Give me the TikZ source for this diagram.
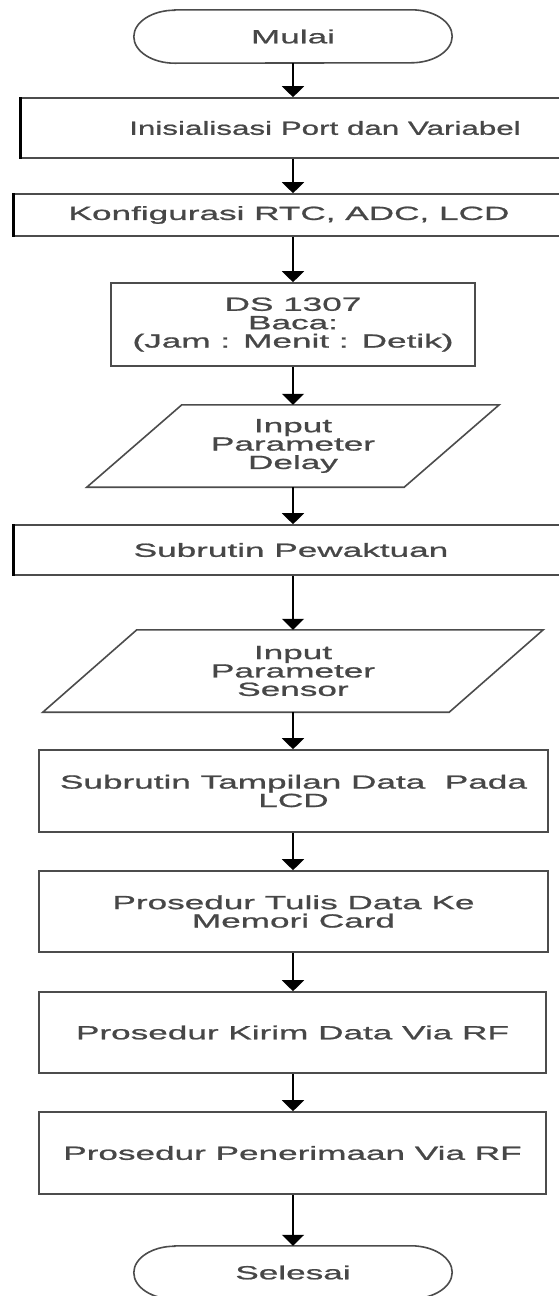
\documentclass[tikz,border=0pt]{standalone}
\usepackage{fontspec}
\setmainfont{Liberation Sans}[FakeStretch=1.85,FakeBold=1.0]
\newfontfamily\narrowfont{Liberation Sans}[FakeStretch=1.65,FakeBold=1.0]
\usetikzlibrary{arrows.meta}
\begin{document}
\begin{tikzpicture}[x=1pt,y=-1pt,
  txt/.style={align=center,inner sep=0pt,text=black!72,font=\fontsize{19}{18.4}\selectfont},
  boxnode/.style={txt,draw=black!70,line width=1.6pt,rectangle,minimum width=#1},
  ghost/.style={txt,draw=none,rectangle,minimum width=#1},
  shapeline/.style={draw=black!70,line width=1.6pt},
  leftedge/.style={draw=black,line width=3pt},
  flow/.style={draw=black,line width=1.8pt,-{Triangle[width=22pt,length=11pt]}}]
\useasboundingbox (0,0) rectangle (559,1296);
\fill[white] (0,0) rectangle (559,1296);
\clip (0,0) rectangle (559,1296);
\coordinate (ax) at (293,0);
% terminator start
\node[ghost=318,minimum height=53] (mulai) at (293,36.5) {Mulai};
\draw[shapeline] ([xshift=41pt]mulai.north west) -- ([xshift=-41pt]mulai.north east)
  arc[start angle=90,end angle=-90,x radius=41pt,y radius=26.5pt]
  -- ([xshift=41pt]mulai.south west)
  arc[start angle=270,end angle=90,x radius=41pt,y radius=26.5pt] -- cycle;
\node[boxnode=608,minimum height=60,font=\fontsize{19}{18.4}\narrowfont] (b1) at (325,128) {Inisialisasi Port dan Variabel};
\draw[leftedge] (b1.north west) -- (b1.south west);
\node[boxnode=550,minimum height=42] (b2) at (289,215) {Konfigurasi RTC, ADC, LCD};
\draw[leftedge] (b2.north west) -- (b2.south west);
\node[boxnode=364,minimum height=83] (ds) at (293,324.5) {DS 1307\\Baca:\\(Jam : Menit : Detik)};
% parallelogram delay
\node[ghost=412,minimum height=82] (pd) at (293,446) {Input\\Parameter\\Delay};
\draw[shapeline] ([xshift=95pt]pd.north west) -- (pd.north east) -- ([xshift=-95pt]pd.south east) -- (pd.south west) -- cycle;
\node[boxnode=554,minimum height=50] (pw) at (291,550) {Subrutin Pewaktuan};
\draw[leftedge] (pw.north west) -- (pw.south west);
% parallelogram sensor
\node[ghost=500,minimum height=82] (ps) at (293,671) {Input\\Parameter\\Sensor};
\draw[shapeline] ([xshift=94pt]ps.north west) -- (ps.north east) -- ([xshift=-94pt]ps.south east) -- (ps.south west) -- cycle;
\node[boxnode=509,minimum height=82] (tl) at (293.5,791) {Subrutin Tampilan Data\ \ Pada\\LCD};
\node[boxnode=509,minimum height=81] (tm) at (293.5,911.5) {Prosedur Tulis Data Ke\\Memori Card};
\node[boxnode=507,minimum height=81] (kr) at (292.5,1032.5) {Prosedur Kirim Data Via RF};
\node[boxnode=507,minimum height=82] (pr) at (292.5,1153) {Prosedur Penerimaan Via RF};
% terminator end
\node[ghost=318,minimum height=53] (sel) at (293,1272.5) {Selesai};
\draw[shapeline] ([xshift=41pt]sel.north west) -- ([xshift=-41pt]sel.north east)
  arc[start angle=90,end angle=-90,x radius=41pt,y radius=26.5pt]
  -- ([xshift=41pt]sel.south west)
  arc[start angle=270,end angle=90,x radius=41pt,y radius=26.5pt] -- cycle;
% connectors
\draw[flow] (ax |- mulai.south) -- (ax |- b1.north);
\draw[flow] (ax |- b1.south) -- (ax |- b2.north);
\draw[flow] (ax |- b2.south) -- (ax |- ds.north);
\draw[flow] (ds.south) -- (pd.north);
\draw[flow] (pd.south) -- (ax |- pw.north);
\draw[flow] (ax |- pw.south) -- (ps.north);
\draw[flow] (ps.south) -- (ax |- tl.north);
\draw[flow] (ax |- tl.south) -- (ax |- tm.north);
\draw[flow] (ax |- tm.south) -- (ax |- kr.north);
\draw[flow] (ax |- kr.south) -- (ax |- pr.north);
\draw[flow] (ax |- pr.south) -- (sel.north);
\end{tikzpicture}
\end{document}
